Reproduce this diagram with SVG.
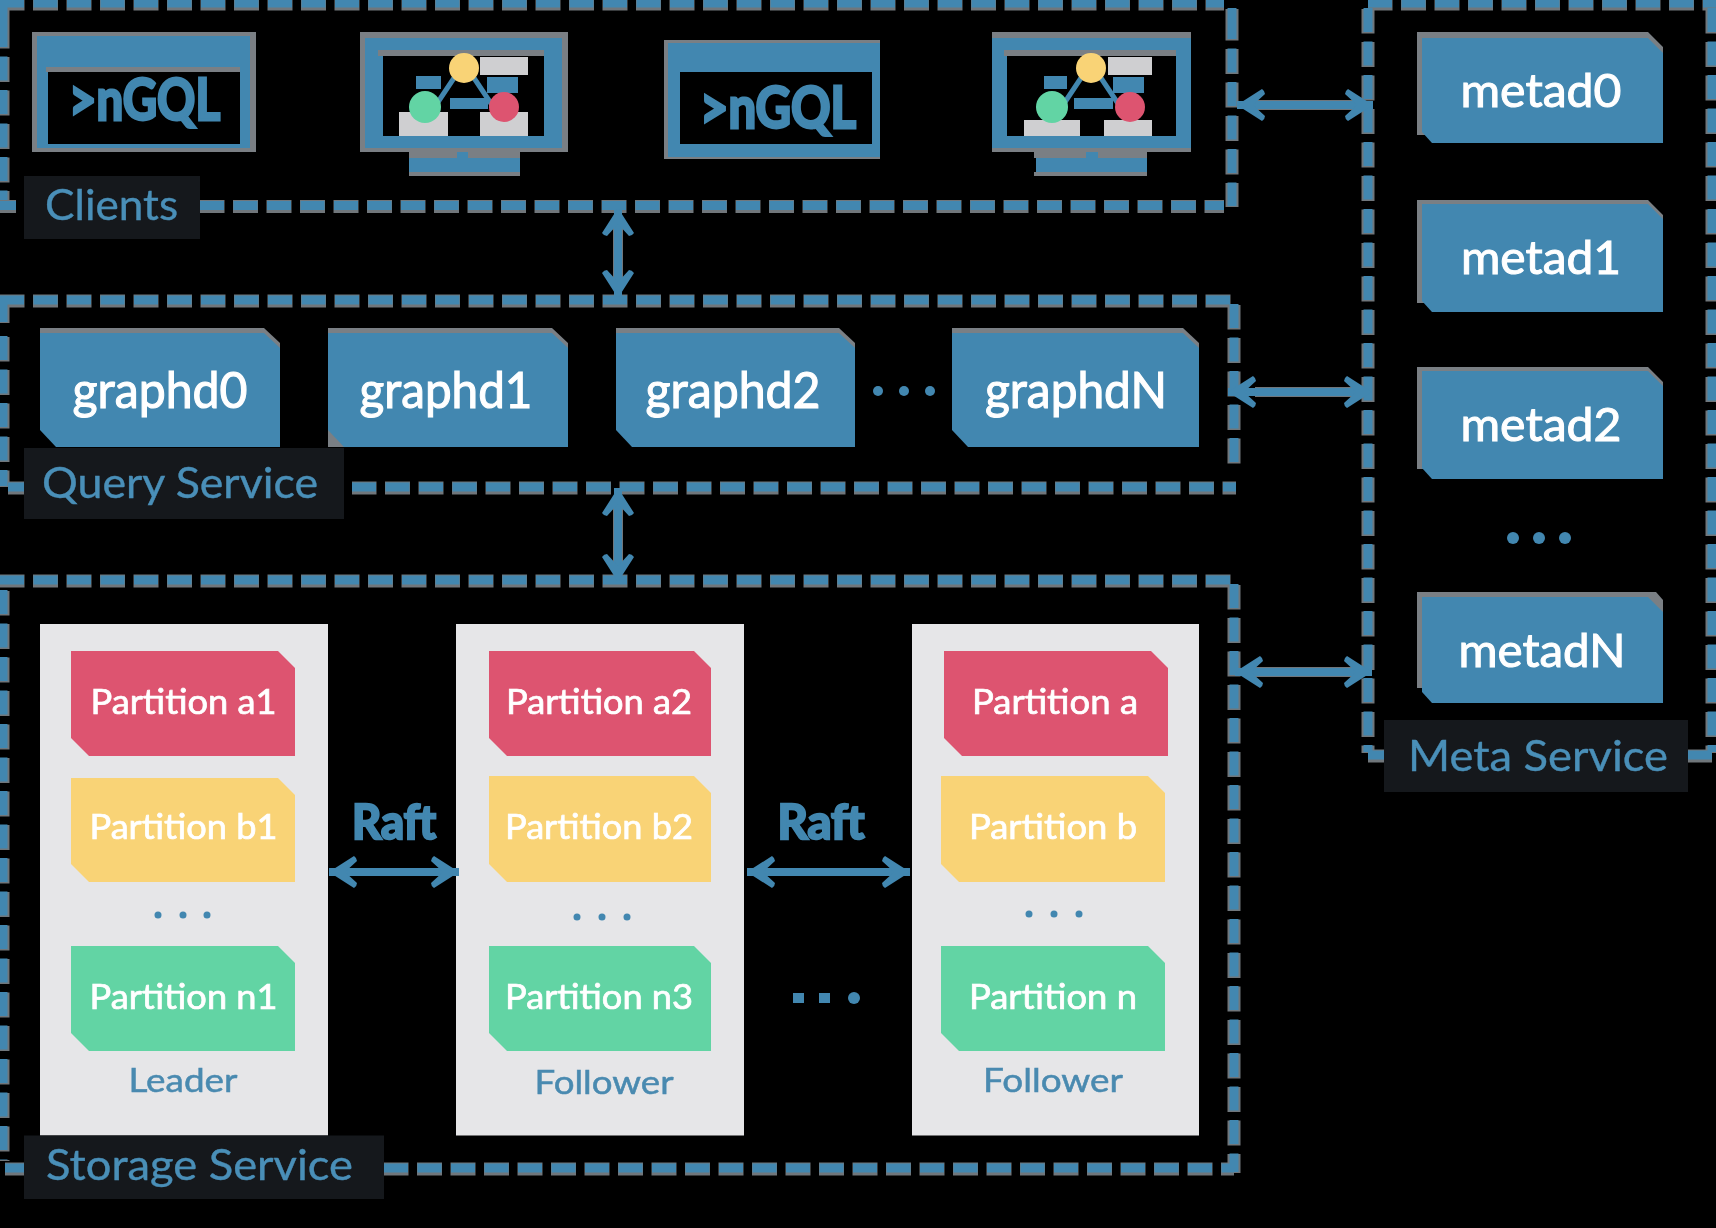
<svg xmlns="http://www.w3.org/2000/svg" xmlns:xlink="http://www.w3.org/1999/xlink" width="1716" height="1228" viewBox="0 0 1716 1228">
<style>
text{font-family:"Lato","Open Sans","Liberation Sans",sans-serif;filter:url(#soft)}
.bl{fill:#4287b0}.gr{fill:#7a7f84}.bk{fill:#000}
.halo{stroke:#70767b;stroke-width:13;stroke-dasharray:25 8.5;stroke-dashoffset:0.5;fill:none}
.dash{stroke:#4287b0;stroke-width:9;stroke-dasharray:24 9.5;fill:none}
.plate{fill:#15181c}
.lbl{fill:#4a8fb8;font-size:43px;stroke:#4a8fb8;stroke-width:.4px}
.node{fill:#fff;font-size:51px;text-anchor:middle;stroke:#fff;stroke-width:1.1px}
.meta{fill:#fff;font-size:47px;text-anchor:middle;stroke:#fff;stroke-width:1px}
.part{fill:#fff;font-size:34px;text-anchor:middle;stroke:#fff;stroke-width:.7px}
.panel{fill:#e6e6e8}
.role{fill:#4a8ab0;font-size:33px;text-anchor:middle;stroke:#4a8ab0;stroke-width:.5px}
.raft{fill:#4287b0;font-size:48px;font-weight:700;text-anchor:middle;stroke:#4287b0;stroke-width:2.5px}
.ngql{fill:#4287b0;font-size:58px;font-weight:700;stroke:#4287b0;stroke-width:3px}
.red{fill:#dd5470}.yel{fill:#f9d376}.grn{fill:#62d4a4}.lgr{fill:#cfcfd1}
.arrow{stroke:#4287b0;stroke-width:8;fill:none;marker-start:url(#ah);marker-end:url(#ah)}
.arhalo{stroke:#70767b;stroke-width:10;fill:none}
.link{stroke:#4287b0;stroke-width:5;fill:none}
</style>
<defs>
<filter id="soft" x="-5%" y="-15%" width="110%" height="130%"><feGaussianBlur stdDeviation="0.7"/></filter>
<marker id="ah" markerUnits="userSpaceOnUse" markerWidth="40" markerHeight="40" refX="36" refY="20" orient="auto-start-reverse" viewBox="0 0 40 40">
<path d="M36 20L11 4Q8 6 8 9L20 20L8 31Q8 34 11 36Z" fill="#4287b0"/>
</marker>
<g id="dl">
<line x1="0" y1="3" x2="1224" y2="3"/><line x1="3" y1="23" x2="3" y2="200"/><line x1="3" y1="7" x2="3" y2="23"/>
<line x1="1232" y1="15" x2="1232" y2="206"/><line x1="1232" y1="8" x2="1232" y2="15"/>
<line x1="200" y1="205.5" x2="1224" y2="205.5"/><line x1="0" y1="205.5" x2="16" y2="205.5"/>
<line x1="0" y1="300" x2="1232" y2="300"/><line x1="3" y1="336" x2="3" y2="486"/><line x1="3" y1="304" x2="3" y2="322"/>
<line x1="1234" y1="304" x2="1234" y2="470"/>
<line x1="352" y1="487" x2="1236" y2="487"/><line x1="338" y1="487" x2="344" y2="487"/><line x1="8" y1="487" x2="24" y2="487"/>
<line x1="0" y1="580" x2="1232" y2="580"/><line x1="3" y1="590" x2="3" y2="1160"/>
<line x1="1234" y1="584" x2="1234" y2="1172"/>
<line x1="384" y1="1168" x2="1234" y2="1168"/><line x1="5" y1="1168" x2="24" y2="1168"/>
<line x1="1368" y1="8" x2="1368" y2="752"/><line x1="1368" y1="3" x2="1716" y2="3"/>
<line x1="1712" y1="8" x2="1712" y2="752"/>
<line x1="1368" y1="755" x2="1392" y2="755"/><line x1="1688" y1="755" x2="1712" y2="755"/>
</g>
</defs>
<rect width="1716" height="1228" fill="#000"/>
<g id="service-frames">
<use xlink:href="#dl" href="#dl" class="halo" transform="translate(0,1)"/>
<use xlink:href="#dl" href="#dl" class="dash"/>
</g>
<g id="storage-panels">
<rect class="panel" x="40" y="624" width="288" height="511.5"/>
<rect class="panel" x="456" y="624" width="288" height="511.5"/>
<rect class="panel" x="912" y="624" width="287" height="511.5"/>
</g>
<g id="client-console-1">
<rect class="gr" x="32" y="32" width="224" height="120"/>
<rect class="bl" x="37" y="36" width="213" height="112"/>
<rect class="gr" x="46" y="67" width="194" height="5"/>
<rect class="bk" x="48" y="72" width="192" height="72"/>
<text class="ngql" x="69" y="120" textLength="151" lengthAdjust="spacingAndGlyphs">&gt;nGQL</text>
</g>
<g id="client-studio-1">
<path class="bl" d="M409 158H520V172H409Z"/>
<rect class="gr" x="409" y="172" width="111" height="4"/>
<rect class="gr" x="409" y="150" width="111" height="8"/>
<rect class="bl" x="457" y="148" width="11" height="12"/>
<rect class="gr" x="360" y="32" width="208" height="120"/>
<rect class="bl" x="365" y="38" width="197" height="110"/>
<rect class="gr" x="378" y="50" width="166" height="6"/>
<rect class="bk" x="383" y="56" width="161" height="80"/>
<rect class="lgr" x="399" y="112" width="49" height="24"/>
<rect class="lgr" x="480" y="112" width="48" height="24"/>
<rect class="lgr" x="480" y="57" width="48" height="18"/>
<rect class="bl" x="416" y="76" width="25" height="13"/>
<rect class="bl" x="487" y="77" width="31" height="16"/>
<rect class="bl" x="450" y="98" width="38" height="11"/>
<path class="link" d="M454 78L434 108M474 78L494 108"/>
<circle class="yel" cx="464" cy="68" r="15"/>
<circle class="grn" cx="425" cy="107" r="16"/>
<circle class="red" cx="504" cy="107" r="15"/>
</g>
<g id="client-console-2">
<rect class="gr" x="664" y="40" width="216" height="119"/>
<rect class="bl" x="668" y="43" width="212" height="114"/>
<rect class="bk" x="680" y="72" width="192" height="72"/>
<text class="ngql" x="700" y="128" textLength="156" lengthAdjust="spacingAndGlyphs">&gt;nGQL</text>
</g>
<g id="client-studio-2">
<path class="bl" d="M1036 158H1147V172H1036Z"/>
<rect class="gr" x="1034" y="172" width="113" height="4"/>
<rect class="gr" x="1034" y="150" width="113" height="8"/>
<rect class="bl" x="1086" y="148" width="12" height="12"/>
<rect class="gr" x="992" y="32" width="199" height="120"/>
<rect class="bl" x="992" y="38" width="199" height="110"/>
<rect class="gr" x="1004" y="50" width="172" height="6"/>
<rect class="bk" x="1007" y="56" width="169" height="80"/>
<rect class="lgr" x="1024" y="120" width="56" height="16"/>
<rect class="lgr" x="1104" y="120" width="48" height="16"/>
<rect class="lgr" x="1108" y="57" width="44" height="18"/>
<rect class="bl" x="1044" y="76" width="23" height="13"/>
<rect class="bl" x="1113" y="77" width="31" height="16"/>
<rect class="bl" x="1074" y="98" width="39" height="11"/>
<path class="link" d="M1081 78L1061 108M1101 78L1121 108"/>
<circle class="yel" cx="1091" cy="68" r="15"/>
<circle class="grn" cx="1052" cy="107" r="16"/>
<circle class="red" cx="1130" cy="107" r="15"/>
</g>
<g id="graphd0">
<path class="gr" d="M40 328H264L280 343V360H40Z"/>
<path class="bl" d="M40 333H264L280 348V447H56L40 430Z"/>
<text class="node" x="160" y="408" textLength="175" lengthAdjust="spacingAndGlyphs">graphd0</text>
</g>
<g id="graphd1">
<path class="gr" d="M328 328H552L568 343V360H328ZM328 420L345 447H328Z"/>
<path class="bl" d="M328 333H552L568 348V447H344L328 430Z"/>
<text class="node" x="446" y="408" textLength="173" lengthAdjust="spacingAndGlyphs">graphd1</text>
</g>
<g id="graphd2">
<path class="gr" d="M616 328H839L855 343V360H616Z"/>
<path class="bl" d="M616 333H839L855 348V447H632L616 430Z"/>
<text class="node" x="733" y="408" textLength="175" lengthAdjust="spacingAndGlyphs">graphd2</text>
</g>
<g id="graphdN">
<path class="gr" d="M952 328H1183L1199 343V360H952Z"/>
<path class="bl" d="M952 333H1183L1199 348V447H968L952 430Z"/>
<text class="node" x="1076" y="408" textLength="182" lengthAdjust="spacingAndGlyphs">graphdN</text>
</g>
<g id="graphd-dots" class="bl"><circle cx="878" cy="391" r="5"/><circle cx="904" cy="391" r="5"/><circle cx="930" cy="391" r="5"/></g>
<g id="metad0">
<path class="gr" d="M1417 32H1648L1663 47V60H1430V135H1417Z"/>
<path class="bl" d="M1422 38H1648L1663 53V143H1432L1422 132Z"/>
<text class="meta" x="1541" y="107" textLength="161" lengthAdjust="spacingAndGlyphs">metad0</text>
</g>
<g id="metad1">
<path class="gr" d="M1417 200H1648L1663 215V228H1430V303H1417Z"/>
<path class="bl" d="M1422 204H1648L1663 219V312H1432L1422 301Z"/>
<text class="meta" x="1541" y="274" textLength="160" lengthAdjust="spacingAndGlyphs">metad1</text>
</g>
<g id="metad2">
<path class="gr" d="M1417 367H1648L1663 382V395H1430V469H1417Z"/>
<path class="bl" d="M1422 371H1648L1663 386V479H1432L1422 468Z"/>
<text class="meta" x="1541" y="441" textLength="161" lengthAdjust="spacingAndGlyphs">metad2</text>
</g>
<g id="metad-dots" class="bl"><circle cx="1513" cy="538" r="6"/><circle cx="1539" cy="538" r="6"/><circle cx="1565" cy="538" r="6"/></g>
<g id="metadN">
<path class="gr" d="M1417 592H1656L1663 600V612H1430V688H1417Z"/>
<path class="bl" d="M1422 597H1648L1663 612V703H1432L1422 692Z"/>
<text class="meta" x="1542" y="667" textLength="167" lengthAdjust="spacingAndGlyphs">metadN</text>
</g>
<g id="partition-a1"><path class="red" d="M71 651H278L295 668V756H89L71 738Z"/><text class="part" x="183.5" y="714" textLength="186" lengthAdjust="spacingAndGlyphs">Partition a1</text></g>
<g id="partition-b1"><path class="yel" d="M71 778H278L295 795V882H89L71 864Z"/><text class="part" x="183.5" y="839" textLength="188" lengthAdjust="spacingAndGlyphs">Partition b1</text></g>
<g id="partition-dots-1" class="bl"><circle cx="158" cy="915" r="3.5"/><circle cx="183" cy="915" r="3.5"/><circle cx="207" cy="915" r="3.5"/></g>
<g id="partition-n1"><path class="grn" d="M71 946H278L295 963V1051H89L71 1033Z"/><text class="part" x="183.5" y="1009" textLength="188" lengthAdjust="spacingAndGlyphs">Partition n1</text></g>
<text id="role-leader" class="role" x="183" y="1092" textLength="109" lengthAdjust="spacingAndGlyphs">Leader</text>
<g id="partition-a2"><path class="red" d="M489 651H694L711 668V756H507L489 738Z"/><text class="part" x="599" y="714" textLength="186" lengthAdjust="spacingAndGlyphs">Partition a2</text></g>
<g id="partition-b2"><path class="yel" d="M489 776H694L711 793V882H507L489 864Z"/><text class="part" x="599" y="839" textLength="188" lengthAdjust="spacingAndGlyphs">Partition b2</text></g>
<g id="partition-dots-2" class="bl"><circle cx="577" cy="917" r="3.5"/><circle cx="602" cy="917" r="3.5"/><circle cx="627" cy="917" r="3.5"/></g>
<g id="partition-n3"><path class="grn" d="M489 946H694L711 963V1051H507L489 1033Z"/><text class="part" x="599" y="1009" textLength="188" lengthAdjust="spacingAndGlyphs">Partition n3</text></g>
<text id="role-follower-1" class="role" x="604" y="1094" textLength="139" lengthAdjust="spacingAndGlyphs">Follower</text>
<g id="partition-a"><path class="red" d="M944 651H1151L1168 668V756H962L944 738Z"/><text class="part" x="1055" y="714" textLength="166" lengthAdjust="spacingAndGlyphs">Partition a</text></g>
<g id="partition-b"><path class="yel" d="M941 776H1148L1165 793V882H959L941 864Z"/><text class="part" x="1053" y="839" textLength="168" lengthAdjust="spacingAndGlyphs">Partition b</text></g>
<g id="partition-dots-3" class="bl"><circle cx="1029" cy="914" r="3.5"/><circle cx="1054" cy="914" r="3.5"/><circle cx="1079" cy="914" r="3.5"/></g>
<g id="partition-n"><path class="grn" d="M941 946H1148L1165 963V1051H959L941 1033Z"/><text class="part" x="1053" y="1009" textLength="168" lengthAdjust="spacingAndGlyphs">Partition n</text></g>
<text id="role-follower-2" class="role" x="1053" y="1092" textLength="140" lengthAdjust="spacingAndGlyphs">Follower</text>
<g id="storage-dots" class="bl"><rect x="793" y="993" width="11" height="10"/><rect x="819" y="993" width="11" height="10"/><circle cx="854" cy="998" r="6"/></g>
<g id="connectors">
<path class="arhalo" d="M618 222V284M618 505V566"/>
<path class="arrow" d="M618 208V298"/>
<path class="arrow" d="M618 488V582"/>
<path class="arhalo" d="M1255 105H1355M1255 392H1355M1255 672H1355"/>
<path class="arrow" d="M1237 105H1373"/>
<path class="arrow" d="M1228 392H1372"/>
<path class="arrow" d="M1235 672H1372"/>
<path class="arrow" d="M329 872H459"/>
<path class="arrow" d="M747 872H910"/>
</g>
<text id="raft-label-1" class="raft" x="394" y="839" textLength="84" lengthAdjust="spacingAndGlyphs">Raft</text>
<text id="raft-label-2" class="raft" x="821" y="839" textLength="87" lengthAdjust="spacingAndGlyphs">Raft</text>
<g id="label-clients"><rect class="plate" x="24" y="176" width="176" height="63"/><text class="lbl" x="45" y="220" textLength="133" lengthAdjust="spacingAndGlyphs">Clients</text></g>
<g id="label-query"><rect class="plate" x="24" y="448" width="320" height="71"/><text class="lbl" x="42" y="498" textLength="276" lengthAdjust="spacingAndGlyphs">Query Service</text></g>
<g id="label-storage"><rect class="plate" x="24" y="1135.5" width="360" height="63.5"/><text class="lbl" x="46" y="1180" textLength="307" lengthAdjust="spacingAndGlyphs">Storage Service</text></g>
<g id="label-meta"><rect class="plate" x="1384" y="720" width="304" height="72"/><text class="lbl" x="1408" y="771" textLength="260" lengthAdjust="spacingAndGlyphs">Meta Service</text></g>
</svg>
